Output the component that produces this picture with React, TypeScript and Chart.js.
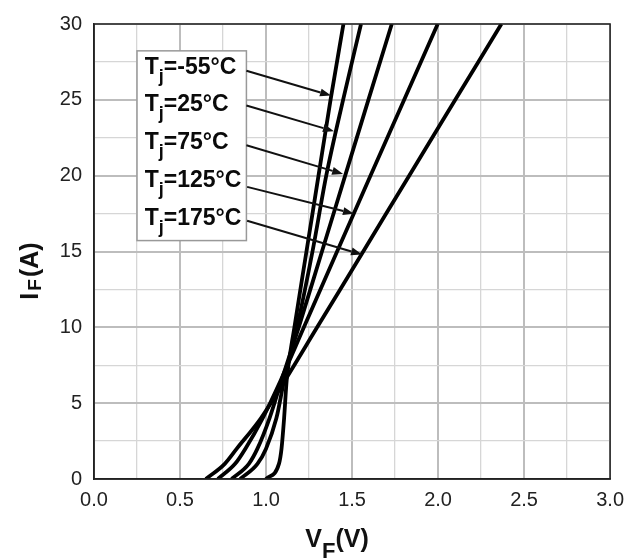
import React, { useEffect, useRef } from 'react';
import { Chart, registerables } from 'chart.js';

Chart.register(...registerables);

// Forward current (A) sample points shared by all curves
const currents = [0, 1, 2, 4, 6.5, 10, 15, 20, 25, 30];
// Forward voltage (V) per junction temperature
const vfMinus55 = [1.0, 1.075, 1.09, 1.105, 1.12, 1.165, 1.235, 1.305, 1.375, 1.45];
const vf25 = [0.85, 0.95, 1.0, 1.06, 1.105, 1.18, 1.27, 1.35, 1.448, 1.552];
const vf75 = [0.8, 0.9, 0.95, 1.02, 1.09, 1.19, 1.325, 1.46, 1.595, 1.731];
const vf125 = [0.72, 0.82, 0.88, 0.98, 1.085, 1.22, 1.413, 1.607, 1.803, 1.998];
const vf175 = [0.65, 0.76, 0.83, 0.97, 1.11, 1.297, 1.565, 1.832, 2.1, 2.368];

const seriesNames = ['-55°C', '25°C', '75°C', '125°C', '175°C'];
const seriesValues = [vfMinus55, vf25, vf75, vf125, vf175];

// Label annotation (data coordinates)
const labelTextV = 0.295;
const labelBaselineI = [26.72, 24.24, 21.75, 19.26, 16.77];
const arrowStartV = [0.886, 0.886, 0.886, 0.89, 0.89];
const arrowStartI = [26.92, 24.63, 22.01, 19.26, 17.03];
const arrowEndV = [1.378, 1.395, 1.448, 1.511, 1.558];
const arrowEndI = [25.28, 22.93, 20.11, 17.49, 14.8];
const boxV = [0.25, 0.886];
const boxI = [28.23, 15.72];

const xTicksMin = 0;
const xTicksMax = 3;
const xStep = 0.25;
const yTicksMin = 0;
const yTicksMax = 30;
const yStep = 2.5;

const FONT = '"Liberation Sans", Arial, sans-serif';

const isMultiple = (v: number, m: number) => Math.abs(v / m - Math.round(v / m)) < 1e-6;

const decorPlugin = {
  id: 'decor',
  afterDraw(chart: any) {
    const { ctx, chartArea, scales } = chart;
    const xs = scales.x;
    const ys = scales.y;
    ctx.save();

    // plot frame
    ctx.strokeStyle = '#222';
    ctx.lineWidth = 1.5;
    ctx.strokeRect(chartArea.left, chartArea.top, chartArea.right - chartArea.left, chartArea.bottom - chartArea.top);

    // label box
    const bx0 = xs.getPixelForValue(boxV[0]);
    const bx1 = xs.getPixelForValue(boxV[1]);
    const by0 = ys.getPixelForValue(boxI[0]);
    const by1 = ys.getPixelForValue(boxI[1]);
    ctx.fillStyle = '#fff';
    ctx.fillRect(bx0, by0, bx1 - bx0, by1 - by0);
    ctx.strokeStyle = '#999';
    ctx.lineWidth = 1.5;
    ctx.strokeRect(bx0, by0, bx1 - bx0, by1 - by0);

    // labels
    ctx.fillStyle = '#0a0a0a';
    ctx.textBaseline = 'alphabetic';
    ctx.textAlign = 'left';
    seriesNames.forEach((name, i) => {
      let x = xs.getPixelForValue(labelTextV);
      const y = ys.getPixelForValue(labelBaselineI[i]);
      ctx.font = `bold 23px ${FONT}`;
      ctx.fillText('T', x, y);
      x += ctx.measureText('T').width;
      ctx.font = `bold 18px ${FONT}`;
      ctx.fillText('j', x, y + 8);
      x += ctx.measureText('j').width;
      ctx.font = `bold 23px ${FONT}`;
      ctx.fillText('=' + name, x, y);
    });

    // arrows
    ctx.strokeStyle = '#111';
    ctx.fillStyle = '#111';
    ctx.lineWidth = 2;
    seriesNames.forEach((_, i) => {
      const x0 = xs.getPixelForValue(arrowStartV[i]);
      const y0 = ys.getPixelForValue(arrowStartI[i]);
      const x1 = xs.getPixelForValue(arrowEndV[i]);
      const y1 = ys.getPixelForValue(arrowEndI[i]);
      const ang = Math.atan2(y1 - y0, x1 - x0);
      const hl = 11;
      const hw = 4;
      const bxp = x1 - hl * Math.cos(ang);
      const byp = y1 - hl * Math.sin(ang);
      ctx.beginPath();
      ctx.moveTo(x0, y0);
      ctx.lineTo(bxp, byp);
      ctx.stroke();
      ctx.beginPath();
      ctx.moveTo(x1, y1);
      ctx.lineTo(bxp + hw * Math.sin(ang), byp - hw * Math.cos(ang));
      ctx.lineTo(bxp - hw * Math.sin(ang), byp + hw * Math.cos(ang));
      ctx.closePath();
      ctx.fill();
    });

    // x title V_F(V)
    ctx.fillStyle = '#111';
    const main = `bold 25px ${FONT}`;
    const sub = `bold 22px ${FONT}`;
    ctx.font = main;
    const wV = ctx.measureText('V').width;
    const wP = ctx.measureText('(V)').width;
    ctx.font = sub;
    const wF = ctx.measureText('F').width;
    const total = wV + wF + wP;
    let tx = 337 - total / 2;
    const tb = 547;
    ctx.font = main;
    ctx.fillText('V', tx, tb);
    tx += wV;
    ctx.font = sub;
    ctx.fillText('F', tx, tb + 11);
    tx += wF;
    ctx.font = main;
    ctx.fillText('(V)', tx, tb);

    // y title I_F(A)
    ctx.save();
    ctx.translate(38, 271);
    ctx.rotate(-Math.PI / 2);
    const ysub = `bold 19px ${FONT}`;
    ctx.font = main;
    const wI = ctx.measureText('I').width;
    const wA = ctx.measureText('(A)').width;
    ctx.font = ysub;
    const wF2 = ctx.measureText('F').width;
    const tot2 = wI + wF2 + wA + 4;
    let ux = -tot2 / 2;
    ctx.font = main;
    ctx.fillText('I', ux, 0);
    ux += wI + 2;
    ctx.font = ysub;
    ctx.fillText('F', ux, 3);
    ux += wF2 + 2;
    ctx.font = main;
    ctx.fillText('(A)', ux, 0);
    ctx.restore();

    ctx.restore();
  },
};

export default function App() {
  const canvasRef = useRef<HTMLCanvasElement | null>(null);

  useEffect(() => {
    document.body.style.margin = '0';
    const canvas = canvasRef.current;
    if (!canvas) return;
    const gridColor = (c: any) => (isMultiple(c.tick.value, c.scale.axis === 'x' ? 0.5 : 5) ? '#bdbdbd' : '#d6d6d6');
    const gridWidth = (c: any) => (isMultiple(c.tick.value, c.scale.axis === 'x' ? 0.5 : 5) ? 2 : 1.3);

    const chart = new Chart(canvas, {
      type: 'line',
      data: {
        datasets: seriesValues.map((vals, i) => ({
          label: 'Tj=' + seriesNames[i],
          data: vals.map((v, k) => ({ x: v, y: currents[k] })),
          borderColor: '#000',
          backgroundColor: '#000',
          borderWidth: 3.8,
          pointRadius: 0,
          fill: false,
          cubicInterpolationMode: 'monotone' as const,
        })),
      },
      options: {
        animation: false,
        responsive: false,
        devicePixelRatio: 1,
        layout: { padding: { top: 21, right: 21, left: 0, bottom: 0 } },
        plugins: { legend: { display: false }, tooltip: { enabled: false } },
        scales: {
          x: {
            type: 'linear',
            min: xTicksMin,
            max: xTicksMax,
            afterFit: (s: any) => {
              s.height = 81;
            },
            ticks: {
              stepSize: xStep,
              autoSkip: false,
              maxRotation: 0,
              padding: 9,
              color: '#222',
              font: { family: FONT, size: 20 },
              callback: (v: any) => (isMultiple(Number(v), 0.5) ? Number(v).toFixed(1) : ''),
            },
            grid: { color: gridColor, lineWidth: gridWidth, drawTicks: false },
            border: { color: '#222', width: 1.5 },
          },
          y: {
            type: 'linear',
            min: yTicksMin,
            max: yTicksMax,
            afterFit: (s: any) => {
              s.width = 94;
            },
            ticks: {
              stepSize: yStep,
              autoSkip: false,
              padding: 12,
              color: '#222',
              font: { family: FONT, size: 20 },
              callback: (v: any) => (isMultiple(Number(v), 5) ? String(v) : ''),
            },
            grid: { color: gridColor, lineWidth: gridWidth, drawTicks: false },
            border: { color: '#222', width: 1.5 },
          },
        },
      },
      plugins: [decorPlugin],
    });
    return () => chart.destroy();
  }, []);

  return (
    <div style={{ width: 633, height: 560, background: '#fff' }}>
      <canvas ref={canvasRef} width={633} height={560} style={{ display: 'block' }} />
    </div>
  );
}
